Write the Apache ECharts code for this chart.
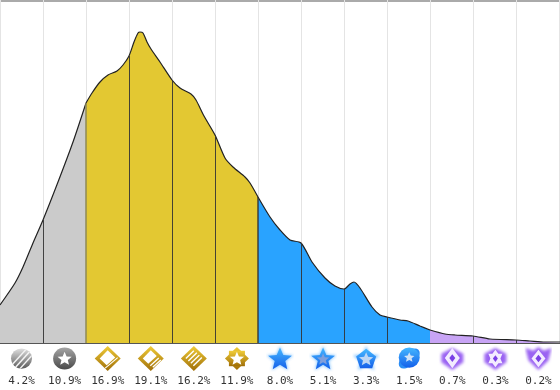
<!DOCTYPE html>
<html>
<head>
<meta charset="utf-8">
<style>html,body{margin:0;padding:0;background:#fff}#chart{width:560px;height:390px}</style>
<script src="https://cdn.jsdelivr.net/npm/echarts@6/dist/echarts.min.js"></script>
</head>
<body>
<div id="chart"></div>
<script>
// curve: x along the rank scale, height above the baseline
var curveX = [0,15,23,33,43,58,73,86,92,100,108,117,123,129,134,138,140,143,147,151,160,172,180,191,196,204,215,225,233,245,250,258,270,280,290,301,312,325,335,344,350,354,360,372,380,387,400,408,420,430,445,455,473,490,516,530,545,560];
var curveH = [38,60,76,100,123,161,201,240,250,261,268,272,278,287,301,310,311,310,301,294,281,263,255,249,243,227,208,185,176,166,160,146,126,113,103,100,81,65,57,54,59,61,55,36,28,26,23,22,17,13,9,8,7,4,3,2,1,1];
var labels = ['4.2%','10.9%','16.9%','19.1%','16.2%','11.9%','8.0%','5.1%','3.3%','1.5%','0.7%','0.3%','0.2%'];
var groupEnds = [86,258,430,560];
var groupColors = ['#cbcbcb','#e3c832','#29a3ff','#c8a4f5'];
var dividers = [43,129,172,215,258,301,344,387,473,516];
var softDividers = [86];

function svg(body){
    return 'data:image/svg+xml;charset=utf-8,' + encodeURIComponent(
        '<svg xmlns="http://www.w3.org/2000/svg" width="28" height="28" viewBox="0 0 28 28"><defs>'+
        '<linearGradient id="s" x1="0" y1="0" x2="0" y2="1"><stop offset="0" stop-color="#e0e0e0"/><stop offset="1" stop-color="#5a5a5a"/></linearGradient>'+
        '<linearGradient id="d" x1="0" y1="0" x2="0" y2="1"><stop offset="0" stop-color="#a5a5a5"/><stop offset="1" stop-color="#4a4a4a"/></linearGradient>'+
        '<linearGradient id="g" x1="0" y1="0" x2="0" y2="1"><stop offset="0" stop-color="#f0cc38"/><stop offset="1" stop-color="#a06f08"/></linearGradient>'+
        '<linearGradient id="b" x1="0" y1="0" x2="0" y2="1"><stop offset="0" stop-color="#45b8ff"/><stop offset="1" stop-color="#1460ea"/></linearGradient>'+
        '<filter id="f" x="-40%" y="-40%" width="180%" height="180%"><feGaussianBlur stdDeviation="1.6"/></filter>'+
        '</defs>'+body+'</svg>');
}
var starPts = function(cx,cy,r){
    var p=[];
    for(var i=0;i<10;i++){
        var a=-Math.PI/2+i*Math.PI/5, q=i%2?r*0.45:r;
        p.push((cx+q*Math.cos(a)).toFixed(1)+','+(cy+q*Math.sin(a)).toFixed(1));
    }
    return p.join(' ');
};
// gold plate: rotated square over a smaller upright one
var goldPlate = '<path d="M14 2 L26 14 L14 26 L2 14 Z" fill="url(#g)"/><rect x="6" y="6" width="16" height="16" fill="url(#g)"/>';
var starGlow = function(color){
    return '<polygon points="'+starPts(14,15,14)+'" fill="'+color+'" opacity=".6" filter="url(#f)"/>';
};
var purpleGlow = '<path d="M14 3 L25 9 L25 18 L14 26 L3 18 L3 9 Z" fill="#9a62f2" filter="url(#f)"/>';
var icons = [
    svg('<clipPath id="r"><circle cx="14" cy="14" r="10.5"/></clipPath><circle cx="14" cy="14" r="10.5" fill="url(#s)"/><g clip-path="url(#r)" stroke="#f4f4f4" stroke-width="1.5"><line x1="5" y1="20" x2="19" y2="4"/><line x1="8" y1="23" x2="22" y2="7"/><line x1="12" y1="25" x2="26" y2="9"/></g>'),
    svg('<circle cx="14" cy="14" r="11.5" fill="url(#d)"/><polygon points="'+starPts(14,14.5,7.5)+'" fill="#fff"/>'),
    svg('<path d="M14 1 L27 14 L14 27 L1 14 Z" fill="url(#g)"/><path d="M14 5.5 L21.5 13 L13 21 L6 14 Z" fill="#fff"/><line x1="11.5" y1="24" x2="24" y2="13" stroke="#fff" stroke-width="1.1"/>'),
    svg('<path d="M14 1 L27 14 L14 27 L1 14 Z" fill="url(#g)"/><path d="M14 5.5 L20 11.5 L11.5 19.5 L6 14 Z" fill="#fff"/><g stroke="#fff" stroke-width="1.3"><line x1="13.5" y1="21.5" x2="22" y2="13.5"/><line x1="16" y1="23" x2="24" y2="15.5"/></g>'),
    svg('<path d="M14 1 L27 14 L14 27 L1 14 Z" fill="url(#g)"/><g stroke="#fff" stroke-width="1.4"><line x1="6" y1="14" x2="14" y2="6"/><line x1="8.5" y1="16.5" x2="17" y2="8"/><line x1="11" y1="19" x2="19.5" y2="10.5"/><line x1="13.5" y1="21.5" x2="22" y2="13"/></g>'),
    svg(goldPlate+'<polygon points="'+starPts(14,14.5,7.5)+'" fill="#fff"/>'),
    svg(starGlow('#3fa5ff')+'<polygon points="'+starPts(14,15,12.5)+'" fill="url(#b)"/>'),
    svg(starGlow('#3fa5ff')+'<polygon points="'+starPts(14,15,12.5)+'" fill="url(#b)"/><polygon points="'+starPts(14,15,6.5)+'" fill="#7f9fdc"/>'),
    svg(starGlow('#2f9bff')+'<path d="M14 4 L24 12 L20 24 L8 24 L4 12 Z" fill="url(#b)"/><polygon points="'+starPts(14,15,7.5)+'" fill="#bcd6f5"/>'),
    svg('<ellipse cx="14" cy="14" rx="13" ry="7" transform="rotate(-45 14 14)" fill="#2a8df5"/><circle cx="14" cy="13" r="10.5" fill="url(#b)"/><polygon points="'+starPts(14,13,5.5)+'" fill="#cfe3f8"/>'),
    svg(purpleGlow+'<path d="M14 3 L21.5 13.5 L14 24 L6.5 13.5 Z" fill="#f3ecff"/><path d="M14 9.5 L17 13.5 L14 17.5 L11 13.5 Z" fill="#7a3fe6"/>'),
    svg(purpleGlow+'<path d="M14 5 L17 9 L21 9 L19 14 L21 19 L17 19 L14 23 L11 19 L7 19 L9 14 L7 9 L11 9 Z" fill="#f3ecff"/><path d="M14 10.5 L16.5 14 L14 17.5 L11.5 14 Z" fill="#7a3fe6"/>'),
    svg('<path d="M1 3 L9 6 L14 2 L19 6 L27 3 L24 16 L14 26 L4 16 Z" fill="#9a62f2" filter="url(#f)"/><path d="M14 5 L21 14 L14 23 L7 14 Z" fill="#f3ecff"/><path d="M14 10 L17 14 L14 18 L11 14 Z" fill="#7a3fe6"/>')
];

var rich = {v: {fontFamily: 'DejaVu Sans Mono', fontSize: 11, color: '#333', height: 19, lineHeight: 19, align: 'center'}};
icons.forEach(function(url, i){
    rich['i' + i] = {width: 28, height: 27, lineHeight: 27, align: 'center', backgroundColor: {image: url}};
});

// one filled piece per rank group, sharing the boundary point
var areaSeries = groupEnds.map(function(end, g){
    var start = g ? groupEnds[g - 1] : 0;
    var pts = [];
    curveX.forEach(function(x, i){
        if (x >= start && x <= end) pts.push([x, curveH[i]]);
    });
    return {
        type: 'line',
        data: pts,
        smooth: 0.25,
        symbol: 'none',
        lineStyle: {color: '#222', width: 1.2},
        areaStyle: {color: groupColors[g], opacity: 1},
        silent: true,
        z: 2
    };
});

function dividerItem(x, style){
    var top = curveH[curveX.indexOf(x)];
    return [{coord: [x, 0], lineStyle: style}, {coord: [x, top]}];
}
var dividerLines = {
    type: 'line',
    data: [],
    silent: true,
    z: 3,
    markLine: {
        symbol: 'none',
        silent: true,
        label: {show: false},
        lineStyle: {color: '#333', width: 1, type: 'solid', opacity: 0.9},
        data: dividers.map(function(x){
            return dividerItem(x, {color: '#333', width: x === 258 ? 1.5 : 1, type: 'solid', opacity: 0.9});
        }).concat(softDividers.map(function(x){
            return dividerItem(x, {color: '#8f8a55', width: 1.5, type: 'solid', opacity: 1});
        }))
    }
};

var chart = echarts.init(document.getElementById('chart'));
var option = {
    animation: false,
    grid: [
        {left: 0, right: 0, top: 0, height: 343},
        {left: 0, right: 0, top: 343, height: 0}
    ],
    xAxis: [{
        type: 'value', min: 0, max: 560, interval: 43,
        axisLine: {show: false}, axisTick: {show: false}, axisLabel: {show: false},
        splitLine: {show: true, lineStyle: {color: '#e4e4e4', width: 1}}
    }, {
        type: 'category', gridIndex: 1, data: labels, position: 'bottom',
        axisLine: {show: true, lineStyle: {color: '#555', width: 1}},
        axisTick: {show: false},
        axisLabel: {
            interval: 0, margin: 2, rich: rich,
            formatter: function(v, i){ return '{i' + i + '|}\n{v|' + v + '}'; }
        }
    }],
    yAxis: [{
        type: 'value', min: 0, max: 343,
        axisLine: {show: false}, axisTick: {show: false}, axisLabel: {show: false}, splitLine: {show: false}
    }, {
        type: 'value', gridIndex: 1, show: false
    }],
    graphic: [{type: 'rect', shape: {x: 0, y: 0, width: 560, height: 2}, style: {fill: '#aaa'}, silent: true}],
    series: areaSeries.concat([dividerLines])
};
option && chart.setOption(option);
window.addEventListener('resize', chart.resize);
</script>
</body>
</html>
